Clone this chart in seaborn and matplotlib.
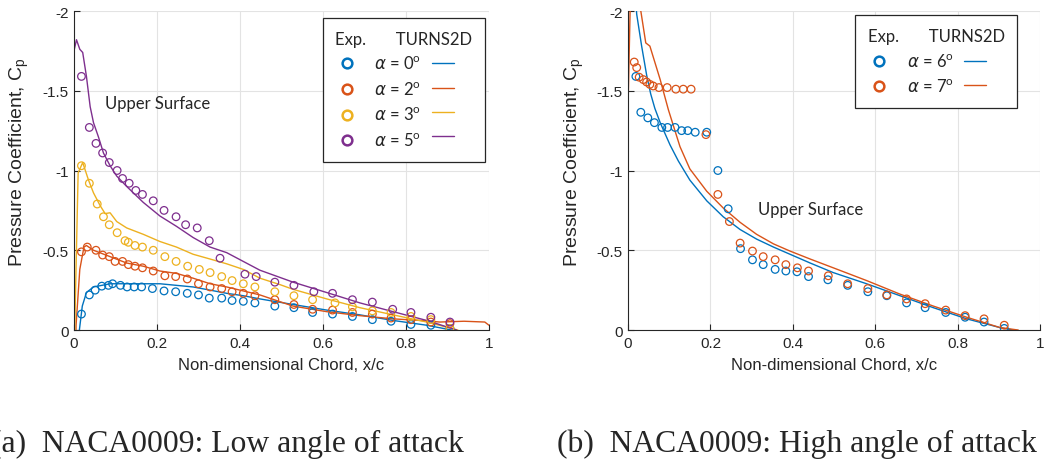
import matplotlib
matplotlib.use("Agg")
import matplotlib.pyplot as plt
import seaborn as sns
from matplotlib.lines import Line2D

# ---------------- (a) NACA0009, low angle of attack ----------------
# experiment (upper surface)
exp_a0_x = [0.018, 0.037, 0.051, 0.067, 0.083, 0.093, 0.112, 0.128, 0.145, 0.163, 0.189, 0.217, 0.245, 0.273, 0.300,
            0.326, 0.356, 0.381, 0.408, 0.436, 0.484, 0.530, 0.575, 0.623, 0.671, 0.719, 0.764, 0.812, 0.860, 0.906]
exp_a0_cp = [-0.10, -0.22, -0.25, -0.275, -0.28, -0.29, -0.28, -0.27, -0.27, -0.27, -0.26, -0.245, -0.24, -0.23, -0.22,
             -0.20, -0.20, -0.185, -0.18, -0.17, -0.15, -0.14, -0.11, -0.10, -0.085, -0.065, -0.055, -0.035, -0.03, -0.01]

exp_a2_x = [0.018, 0.032, 0.053, 0.069, 0.085, 0.099, 0.117, 0.131, 0.147, 0.165, 0.191, 0.219, 0.245, 0.273, 0.300,
            0.328, 0.356, 0.381, 0.408, 0.436, 0.484, 0.530, 0.575, 0.623, 0.671, 0.719, 0.764, 0.812, 0.860, 0.906]
exp_a2_cp = [-0.49, -0.52, -0.50, -0.47, -0.46, -0.43, -0.43, -0.41, -0.40, -0.39, -0.37, -0.34, -0.335, -0.32, -0.29,
             -0.27, -0.26, -0.24, -0.23, -0.215, -0.19, -0.16, -0.13, -0.125, -0.11, -0.10, -0.075, -0.065, -0.05, -0.04]

exp_a3_x = [0.018, 0.037, 0.056, 0.071, 0.085, 0.104, 0.123, 0.131, 0.147, 0.165, 0.191, 0.219, 0.246, 0.274, 0.302,
            0.328, 0.356, 0.381, 0.408, 0.436, 0.484, 0.530, 0.575, 0.629, 0.671, 0.719, 0.764, 0.812, 0.860, 0.906]
exp_a3_cp = [-1.03, -0.92, -0.79, -0.71, -0.66, -0.61, -0.56, -0.55, -0.53, -0.52, -0.50, -0.46, -0.43, -0.40, -0.38,
             -0.36, -0.335, -0.31, -0.29, -0.27, -0.24, -0.215, -0.19, -0.17, -0.145, -0.12, -0.11, -0.085, -0.065, -0.01]

exp_a5_x = [0.018, 0.037, 0.053, 0.069, 0.085, 0.104, 0.117, 0.133, 0.149, 0.165, 0.191, 0.217, 0.246, 0.269, 0.297,
            0.326, 0.352, 0.412, 0.439, 0.484, 0.530, 0.578, 0.623, 0.671, 0.719, 0.768, 0.812, 0.860, 0.906]
exp_a5_cp = [-1.59, -1.27, -1.17, -1.11, -1.05, -1.00, -0.95, -0.92, -0.875, -0.85, -0.81, -0.75, -0.71, -0.66, -0.64,
             -0.56, -0.45, -0.35, -0.335, -0.30, -0.28, -0.24, -0.23, -0.19, -0.175, -0.13, -0.11, -0.08, -0.05]

# TURNS2D
cfd_a0_x = [0.0, 0.013, 0.020, 0.030, 0.047, 0.087, 0.127, 0.167, 0.207, 0.247, 0.287, 0.328, 0.368, 0.408, 0.448,
            0.528, 0.609, 0.689, 0.769, 0.850, 0.930]
cfd_a0_cp = [1.0, 0.0, -0.15, -0.235, -0.27, -0.29, -0.29, -0.29, -0.29, -0.28, -0.27, -0.25, -0.23, -0.215, -0.195,
             -0.16, -0.125, -0.095, -0.06, -0.03, 0.01]

cfd_a2_x = [0.0, 0.005, 0.014, 0.024, 0.030, 0.047, 0.087, 0.127, 0.167, 0.207, 0.247, 0.287, 0.328, 0.368, 0.408,
            0.448, 0.528, 0.609, 0.689, 0.769, 0.834, 0.882, 0.940, 0.990, 1.0]
cfd_a2_cp = [1.0, -0.03, -0.38, -0.52, -0.53, -0.50, -0.46, -0.42, -0.40, -0.37, -0.355, -0.325, -0.29, -0.27, -0.245,
             -0.22, -0.15, -0.115, -0.09, -0.07, -0.06, -0.05, -0.055, -0.05, -0.03]

cfd_a3_x = [0.0, 0.002, 0.010, 0.021, 0.035, 0.047, 0.063, 0.075, 0.087, 0.103, 0.127, 0.167, 0.207, 0.247, 0.287,
            0.328, 0.368, 0.408, 0.448, 0.496, 0.528, 0.609, 0.689, 0.769, 0.850, 0.925]
cfd_a3_cp = [1.0, -0.03, -0.985, -1.05, -0.94, -0.86, -0.78, -0.73, -0.735, -0.68, -0.64, -0.60, -0.555, -0.52, -0.475,
             -0.445, -0.415, -0.38, -0.325, -0.285, -0.255, -0.195, -0.14, -0.095, -0.05, 0.0]

cfd_a5_x = [0.0, 0.0, 0.006, 0.014, 0.021, 0.030, 0.039, 0.047, 0.059, 0.071, 0.087, 0.103, 0.127, 0.167, 0.207,
            0.247, 0.287, 0.328, 0.368, 0.408, 0.448, 0.528, 0.609, 0.689, 0.769, 0.850, 0.922]
cfd_a5_cp = [-0.45, -1.75, -1.82, -1.76, -1.74, -1.59, -1.40, -1.30, -1.21, -1.11, -1.03, -0.965, -0.90, -0.80, -0.715,
             -0.65, -0.58, -0.52, -0.485, -0.43, -0.375, -0.30, -0.235, -0.17, -0.115, -0.06, 0.0]

# ---------------- (b) NACA0009, high angle of attack ----------------
exp_a6_x = [0.019, 0.031, 0.048, 0.064, 0.082, 0.096, 0.114, 0.130, 0.145, 0.163, 0.191, 0.218, 0.243, 0.273, 0.302,
            0.328, 0.357, 0.383, 0.410, 0.438, 0.485, 0.533, 0.582, 0.628, 0.676, 0.721, 0.771, 0.818, 0.864, 0.913]
exp_a6_cp = [-1.59, -1.365, -1.33, -1.30, -1.27, -1.27, -1.27, -1.25, -1.25, -1.24, -1.24, -1.0, -0.76, -0.51, -0.44,
             -0.41, -0.38, -0.37, -0.365, -0.335, -0.315, -0.28, -0.24, -0.215, -0.17, -0.14, -0.11, -0.08, -0.05, -0.01]

exp_a7_x = [0.015, 0.021, 0.027, 0.037, 0.045, 0.053, 0.061, 0.075, 0.095, 0.116, 0.134, 0.153, 0.189, 0.218, 0.246,
            0.272, 0.302, 0.328, 0.357, 0.383, 0.411, 0.438, 0.486, 0.533, 0.582, 0.628, 0.676, 0.721, 0.771, 0.818,
            0.864, 0.913]
exp_a7_cp = [-1.68, -1.645, -1.585, -1.57, -1.555, -1.54, -1.53, -1.52, -1.52, -1.51, -1.51, -1.51, -1.225, -0.85, -0.68,
             -0.545, -0.495, -0.46, -0.44, -0.41, -0.39, -0.37, -0.34, -0.29, -0.26, -0.22, -0.195, -0.165, -0.125, -0.09,
             -0.07, -0.03]

cfd_a6_x = [0.0, 0.0, 0.012, 0.021, 0.033, 0.045, 0.055, 0.065, 0.078, 0.102, 0.122, 0.150, 0.191, 0.231, 0.272,
            0.312, 0.353, 0.393, 0.442, 0.498, 0.579, 0.660, 0.741, 0.822, 0.903, 0.935]
cfd_a6_cp = [-1.49, -2.6, -2.3, -1.98, -1.78, -1.60, -1.48, -1.39, -1.30, -1.16, -1.06, -0.94, -0.81, -0.71, -0.63,
             -0.57, -0.52, -0.475, -0.42, -0.36, -0.29, -0.215, -0.14, -0.07, -0.015, 0.0]

cfd_a7_x = [0.0, 0.010, 0.031, 0.043, 0.053, 0.078, 0.098, 0.126, 0.150, 0.191, 0.231, 0.272, 0.312, 0.353, 0.393,
            0.442, 0.498, 0.579, 0.660, 0.741, 0.822, 0.903, 0.947]
cfd_a7_cp = [-1.4, -2.6, -2.0, -1.80, -1.78, -1.57, -1.38, -1.15, -1.01, -0.87, -0.765, -0.675, -0.60, -0.54, -0.495,
             -0.445, -0.39, -0.31, -0.225, -0.15, -0.08, -0.015, 0.0]

labels_a = [r'$\alpha$ = 0$^\mathregular{o}$', r'$\alpha$ = 2$^\mathregular{o}$',
            r'$\alpha$ = 3$^\mathregular{o}$', r'$\alpha$ = 5$^\mathregular{o}$']
labels_b = [r'$\alpha$ = 6$^\mathregular{o}$', r'$\alpha$ = 7$^\mathregular{o}$']
colors = ['#0072BD', '#D95319', '#EDB120', '#7E2F8E']

sns.set_theme(style='ticks')
plt.rcParams['font.family'] = ['Liberation Sans', 'DejaVu Sans']
plt.rcParams['mathtext.fontset'] = 'dejavusans'

fig = plt.figure(figsize=(10.45, 4.6), dpi=100)
ax1 = fig.add_axes([0.0708, 0.2804, 0.3971, 0.6935])
ax2 = fig.add_axes([0.6010, 0.2804, 0.3943, 0.6935])


def draw(ax, exps, cfds, labels, cols, leg_anchor, title):
    for (ex, ey), (cx, cy), c in zip(exps, cfds, cols):
        sns.scatterplot(x=ex, y=ey, ax=ax, marker='o', s=30, color=c, facecolor='none',
                        edgecolor=c, linewidth=0.9, zorder=3)
        sns.lineplot(x=cx, y=cy, ax=ax, color=c, linewidth=1.0, sort=False, estimator=None, zorder=2)
    ax.set_xlim(0, 1)
    ax.set_ylim(0, -2)
    ax.set_xticks([0, 0.2, 0.4, 0.6, 0.8, 1])
    ax.set_xticklabels(['0', '0.2', '0.4', '0.6', '0.8', '1'])
    ax.set_yticks([0, -0.5, -1, -1.5, -2])
    ax.set_yticklabels(['0', '-0.5', '-1', '-1.5', '-2'])
    ax.grid(True, color='#e3e3e3', linewidth=0.8)
    ax.set_axisbelow(True)
    ax.tick_params(direction='in', length=4, width=0.8, labelsize=11, colors='#262626', pad=4)
    for s in ['top', 'right']:
        ax.spines[s].set_visible(False)
    for s in ['left', 'bottom']:
        ax.spines[s].set_color('#262626')
        ax.spines[s].set_linewidth(0.8)
    ax.set_xlabel('Non-dimensional Chord, x/c', fontsize=12, color='#262626')
    ax.set_ylabel(r'Pressure Coefficient, C$_\mathregular{p}$', fontsize=14, color='#262626')
    ax.xaxis.set_label_coords(0.5, -0.085)
    ax.yaxis.set_label_coords(-0.103, 0.53)

    circ = [Line2D([], [], ls='none', marker='o', ms=7, mew=1.8, mfc='none', mec=c) for c in cols]
    lns = [Line2D([], [], color=c, lw=1.0) for c in cols]
    leg = ax.legend(circ + lns, labels + [''] * len(cols), ncol=2, title=title, alignment='left',
                    loc='upper right', bbox_to_anchor=leg_anchor, borderaxespad=0, frameon=True,
                    fancybox=False, edgecolor='#262626', framealpha=1, borderpad=0.75, handlelength=1.35,
                    handletextpad=1.0, columnspacing=0.6, labelspacing=0.5,
                    prop={'family': ['Lato', 'DejaVu Sans'], 'size': 12},
                    title_fontproperties={'family': ['Lato', 'DejaVu Sans'], 'size': 12})
    leg.get_frame().set_linewidth(0.9)


draw(ax1,
     [(exp_a0_x, exp_a0_cp), (exp_a2_x, exp_a2_cp), (exp_a3_x, exp_a3_cp), (exp_a5_x, exp_a5_cp)],
     [(cfd_a0_x, cfd_a0_cp), (cfd_a2_x, cfd_a2_cp), (cfd_a3_x, cfd_a3_cp), (cfd_a5_x, cfd_a5_cp)],
     labels_a, colors, (0.99, 0.978), 'Exp.       TURNS2D')
draw(ax2,
     [(exp_a6_x, exp_a6_cp), (exp_a7_x, exp_a7_cp)],
     [(cfd_a6_x, cfd_a6_cp), (cfd_a7_x, cfd_a7_cp)],
     labels_b, colors[:2], (0.944, 0.986), 'Exp.       TURNS2D')

ax1.text(0.075, -1.425, 'Upper Surface', fontsize=12, family=['Lato', 'DejaVu Sans'], va='center')
ax2.text(0.315, -0.756, 'Upper Surface', fontsize=12, family=['Lato', 'DejaVu Sans'], va='center')

fig.text(-0.0085, 0.0174, '(a)  NACA0009: Low angle of attack', fontsize=22.8,
         family=['Liberation Serif', 'DejaVu Serif'], va='baseline', ha='left')
fig.text(0.533, 0.0174, '(b)  NACA0009: High angle of attack', fontsize=22.8,
         family=['Liberation Serif', 'DejaVu Serif'], va='baseline', ha='left')

fig.savefig('out.png', dpi=100, facecolor='white')
